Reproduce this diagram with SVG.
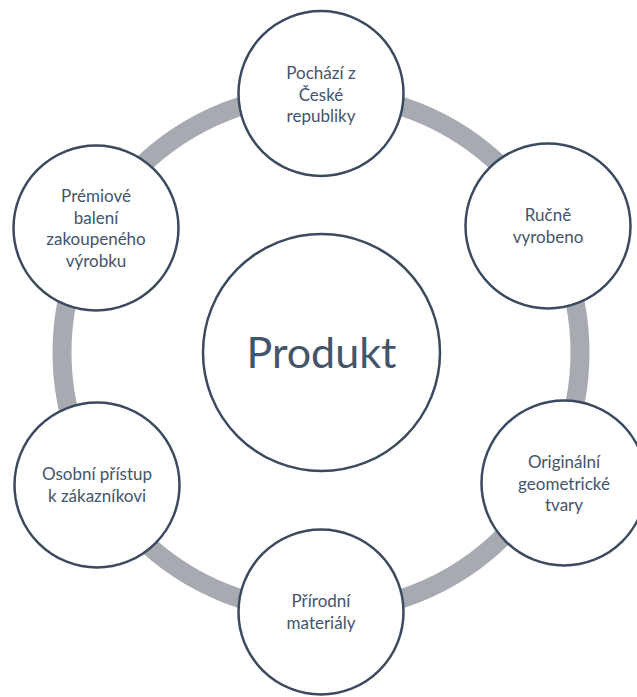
<svg xmlns="http://www.w3.org/2000/svg" width="637" height="697" viewBox="0 0 637 697">
  <style>
    .ring { fill: none; stroke: #a7aab0; stroke-width: 19; }
    .node { fill: #ffffff; stroke: #3b4a5f; stroke-width: 2.5; }
    .lbl { font-family: Lato, "Open Sans", sans-serif; font-size: 17px; fill: #44546a; text-anchor: middle; }
    .hub { font-family: Lato, "Open Sans", sans-serif; font-size: 43px; fill: #44546a; text-anchor: middle; }
  </style>
  <rect width="637" height="697" fill="#ffffff"/>

  <!-- connecting ring behind the satellites -->
  <g id="connectors">
    <circle class="ring" cx="321" cy="352.5" r="259"/>
  </g>

  <g id="center">
    <circle class="node" cx="321.5" cy="352.5" r="118.5"/>
    <text class="hub" x="321.5" y="368">Produkt</text>
  </g>

  <g id="node-origin">
    <circle class="node" cx="321" cy="93.5" r="82.5"/>
    <text class="lbl" x="321" y="79">Pochází z</text>
    <text class="lbl" x="321" y="100.7">České</text>
    <text class="lbl" x="321" y="122.4">republiky</text>
  </g>

  <g id="node-handmade">
    <circle class="node" cx="548" cy="226" r="82.5"/>
    <text class="lbl" x="548" y="221">Ručně</text>
    <text class="lbl" x="548" y="242.7">vyrobeno</text>
  </g>

  <g id="node-shapes">
    <circle class="node" cx="564" cy="483" r="82.5"/>
    <text class="lbl" x="564" y="468">Originální</text>
    <text class="lbl" x="564" y="489.7">geometrické</text>
    <text class="lbl" x="564" y="511.4">tvary</text>
  </g>

  <g id="node-materials">
    <circle class="node" cx="321" cy="612" r="82.5"/>
    <text class="lbl" x="321" y="607">Přírodní</text>
    <text class="lbl" x="321" y="628.7">materiály</text>
  </g>

  <g id="node-approach">
    <circle class="node" cx="97" cy="485" r="82.5"/>
    <text class="lbl" x="97" y="480">Osobní přístup</text>
    <text class="lbl" x="97" y="501.7">k zákazníkovi</text>
  </g>

  <g id="node-packaging">
    <circle class="node" cx="96" cy="228" r="82.5"/>
    <text class="lbl" x="96" y="202">Prémiové</text>
    <text class="lbl" x="96" y="223.7">balení</text>
    <text class="lbl" x="96" y="245.4">zakoupeného</text>
    <text class="lbl" x="96" y="267.1">výrobku</text>
  </g>
</svg>
